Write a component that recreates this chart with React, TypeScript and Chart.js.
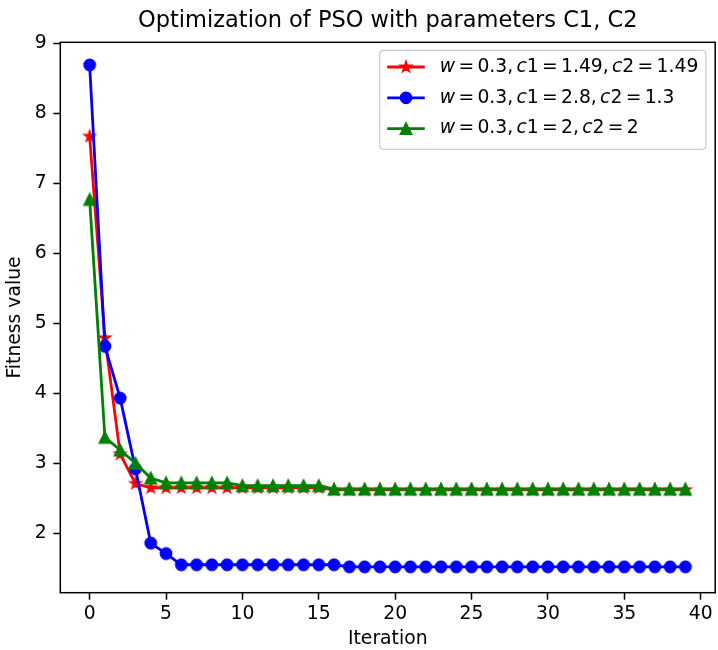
import React, { useEffect, useRef } from 'react';
import { Chart, registerables } from 'chart.js';

Chart.register(...registerables);

// ---------- data ----------
const iterations = [
  0, 1, 2, 3, 4, 5, 6, 7, 8, 9,
  10, 11, 12, 13, 14, 15, 16, 17, 18, 19,
  20, 21, 22, 23, 24, 25, 26, 27, 28, 29,
  30, 31, 32, 33, 34, 35, 36, 37, 38, 39,
];

const fitnessRed = [
  7.67, 4.79, 3.13, 2.71, 2.65, 2.65, 2.65, 2.65, 2.65, 2.65,
  2.65, 2.65, 2.65, 2.65, 2.65, 2.65, 2.62, 2.62, 2.62, 2.62,
  2.62, 2.62, 2.62, 2.62, 2.62, 2.62, 2.62, 2.62, 2.62, 2.62,
  2.62, 2.62, 2.62, 2.62, 2.62, 2.62, 2.62, 2.62, 2.62, 2.62,
];

const fitnessBlue = [
  8.69, 4.67, 3.93, 2.92, 1.86, 1.71, 1.55, 1.55, 1.55, 1.55,
  1.55, 1.55, 1.55, 1.55, 1.55, 1.55, 1.55, 1.52, 1.52, 1.52,
  1.52, 1.52, 1.52, 1.52, 1.52, 1.52, 1.52, 1.52, 1.52, 1.52,
  1.52, 1.52, 1.52, 1.52, 1.52, 1.52, 1.52, 1.52, 1.52, 1.52,
];

const fitnessGreen = [
  6.77, 3.37, 3.19, 3.0, 2.79, 2.72, 2.72, 2.72, 2.72, 2.72,
  2.68, 2.68, 2.68, 2.68, 2.68, 2.68, 2.63, 2.63, 2.63, 2.63,
  2.63, 2.63, 2.63, 2.63, 2.63, 2.63, 2.63, 2.63, 2.63, 2.63,
  2.63, 2.63, 2.63, 2.63, 2.63, 2.63, 2.63, 2.63, 2.63, 2.63,
];

const seriesLabels = [
  'w = 0.3, c1 = 1.49, c2 = 1.49',
  'w = 0.3, c1 = 2.8, c2 = 1.3',
  'w = 0.3, c1 = 2, c2 = 2',
];
const seriesColors = ['#ff0000', '#0000ff', '#008000'];
const seriesMarkers = ['star', 'circle', 'triangle'];

const xTicks = [0, 5, 10, 15, 20, 25, 30, 35, 40];
const yTicks = [2, 3, 4, 5, 6, 7, 8, 9];

const titleText = 'Optimization of PSO with parameters C1, C2';
const xTitleText = 'Iteration';
const yTitleText = 'Fitness value';

// ---------- style ----------
const FONT = "'DejaVu Sans'";
const FS = 18.75;
const MARKER_HALF = 5.6;
const MATH_SPACE = 3.3;

function markerPath(ctx: CanvasRenderingContext2D, type: string, x: number, y: number, s: number) {
  ctx.beginPath();
  if (type === 'circle') {
    ctx.arc(x, y, s, 0, Math.PI * 2);
  } else if (type === 'triangle') {
    ctx.moveTo(x, y - s);
    ctx.lineTo(x - s, y + s);
    ctx.lineTo(x + s, y + s);
    ctx.closePath();
  } else {
    for (let k = 0; k < 10; k++) {
      const r = k % 2 === 0 ? s : s * 0.381966;
      const a = -Math.PI / 2 + (k * Math.PI) / 5;
      const px = x + r * Math.cos(a);
      const py = y + r * Math.sin(a);
      if (k === 0) ctx.moveTo(px, py);
      else ctx.lineTo(px, py);
    }
    ctx.closePath();
  }
}

function drawMarker(ctx: CanvasRenderingContext2D, type: string, x: number, y: number, color: string) {
  ctx.save();
  markerPath(ctx, type, x, y, MARKER_HALF);
  ctx.fillStyle = color;
  ctx.fill();
  ctx.strokeStyle = color;
  ctx.lineWidth = 1.6;
  ctx.lineJoin = 'miter';
  ctx.stroke();
  ctx.restore();
}

function makeMarkerCanvas(type: string, color: string) {
  const c = document.createElement('canvas');
  c.width = 20;
  c.height = 20;
  const ctx = c.getContext('2d')!;
  drawMarker(ctx, type, 10, 10, color);
  return c;
}

function mixedRuns(text: string) {
  return text.split(/([a-z]+| )/).filter((t) => t.length > 0).map((t) => ({
    t,
    italic: /^[a-z]+$/.test(t),
    space: t === ' ',
  }));
}

function drawMixed(ctx: CanvasRenderingContext2D, text: string, x: number, y: number, draw: boolean) {
  let cx = x;
  for (const run of mixedRuns(text)) {
    if (run.space) {
      cx += MATH_SPACE;
      continue;
    }
    ctx.font = `${run.italic ? 'italic ' : ''}${FS}px ${FONT}`;
    const w = ctx.measureText(run.t).width;
    if (draw) ctx.fillText(run.t, cx, y);
    cx += w;
  }
  return cx - x;
}

const framePlugin = {
  id: 'mplFrame',
  afterDatasetsDraw(chart: any) {
    const { ctx, chartArea: a } = chart;
    ctx.save();
    ctx.strokeStyle = '#000';
    ctx.lineWidth = 1.5;
    ctx.strokeRect(a.left, a.top, a.right - a.left, a.bottom - a.top);
    ctx.restore();
  },
};

const legendPlugin = {
  id: 'mplLegend',
  afterDraw(chart: any) {
    const { ctx, chartArea: a } = chart;
    const ds = chart.data.datasets;
    ctx.save();
    ctx.textBaseline = 'middle';
    ctx.textAlign = 'left';
    const widths = ds.map((d: any) => drawMixed(ctx, d.label, 0, 0, false));
    const maxW = Math.max(...widths);
    const pad = 0.4 * FS;
    const handleLen = 2 * FS;
    const textPad = 0.8 * FS;
    const boxRight = a.right - 0.5 * FS;
    const boxW = pad + handleLen + textPad + maxW + pad;
    const boxLeft = boxRight - boxW;
    const boxTop = a.top + 8;
    const boxH = 99;
    const r = 4;
    ctx.beginPath();
    ctx.moveTo(boxLeft + r, boxTop);
    ctx.lineTo(boxLeft + boxW - r, boxTop);
    ctx.quadraticCurveTo(boxLeft + boxW, boxTop, boxLeft + boxW, boxTop + r);
    ctx.lineTo(boxLeft + boxW, boxTop + boxH - r);
    ctx.quadraticCurveTo(boxLeft + boxW, boxTop + boxH, boxLeft + boxW - r, boxTop + boxH);
    ctx.lineTo(boxLeft + r, boxTop + boxH);
    ctx.quadraticCurveTo(boxLeft, boxTop + boxH, boxLeft, boxTop + boxH - r);
    ctx.lineTo(boxLeft, boxTop + r);
    ctx.quadraticCurveTo(boxLeft, boxTop, boxLeft + r, boxTop);
    ctx.closePath();
    ctx.fillStyle = 'rgba(255,255,255,0.8)';
    ctx.fill();
    ctx.strokeStyle = '#cccccc';
    ctx.lineWidth = 1.2;
    ctx.stroke();

    ds.forEach((d: any, i: number) => {
      const y = boxTop + 16.7 + i * 30.8;
      const x0 = boxLeft + pad;
      ctx.beginPath();
      ctx.moveTo(x0, y);
      ctx.lineTo(x0 + handleLen, y);
      ctx.strokeStyle = d.borderColor;
      ctx.lineWidth = 2.8;
      ctx.stroke();
      drawMarker(ctx, d.markerType, x0 + handleLen / 2, y, d.borderColor);
      ctx.fillStyle = '#000';
      drawMixed(ctx, d.label, x0 + handleLen + textPad, y, true);
    });
    ctx.restore();
  },
};

export default function App() {
  const canvasRef = useRef<HTMLCanvasElement | null>(null);

  useEffect(() => {
    const canvas = canvasRef.current;
    if (!canvas) return;
    const series = [fitnessRed, fitnessBlue, fitnessGreen];
    const datasets = series.map((vals, i) => ({
      label: seriesLabels[i],
      data: iterations.map((it, j) => ({ x: it, y: vals[j] })),
      borderColor: seriesColors[i],
      backgroundColor: seriesColors[i],
      borderWidth: 2.8,
      pointStyle: makeMarkerCanvas(seriesMarkers[i], seriesColors[i]),
      pointRadius: 6,
      pointHoverRadius: 6,
      tension: 0,
      fill: false,
      order: 2 - i,
      markerType: seriesMarkers[i],
    }));

    const tickFont = { family: FONT, size: FS, lineHeight: 1.2 };

    const chart = new Chart(canvas, {
      type: 'line',
      data: { datasets: datasets as any },
      options: {
        animation: false,
        responsive: false,
        devicePixelRatio: 1,
        events: [],
        layout: { padding: { left: 0, right: 0.5, top: 0, bottom: 0 } },
        plugins: {
          legend: { display: false },
          tooltip: { enabled: false },
          title: {
            display: true,
            text: titleText,
            fullSize: false,
            color: '#000',
            font: { family: FONT, size: 22.5, weight: 'normal', lineHeight: 1.2 },
            padding: { top: 7.5, bottom: 7.8 },
          },
        },
        scales: {
          x: {
            type: 'linear',
            min: -1.92,
            max: 40.95,
            afterBuildTicks: (scale: any) => {
              scale.ticks = xTicks.map((v) => ({ value: v }));
            },
            afterFit: (scale: any) => {
              scale.height = 57.3;
            },
            grid: {
              drawOnChartArea: false,
              drawTicks: true,
              tickLength: 7,
              tickWidth: 1.5,
              tickColor: '#000',
            },
            border: { display: false },
            ticks: {
              color: '#000',
              font: tickFont,
              padding: 3,
              maxRotation: 0,
              autoSkip: false,
            },
            title: {
              display: true,
              text: xTitleText,
              color: '#000',
              font: { family: FONT, size: FS, lineHeight: 1.2 },
              padding: { top: 0, bottom: 0 },
            },
          },
          y: {
            type: 'linear',
            min: 1.151,
            max: 9.014,
            afterBuildTicks: (scale: any) => {
              scale.ticks = yTicks.map((v) => ({ value: v }));
            },
            afterFit: (scale: any) => {
              scale.width = 60.3;
            },
            grid: {
              drawOnChartArea: false,
              drawTicks: true,
              tickLength: 7,
              tickWidth: 1.5,
              tickColor: '#000',
            },
            border: { display: false },
            ticks: {
              color: '#000',
              font: tickFont,
              padding: 6.6,
              autoSkip: false,
            },
            title: {
              display: true,
              text: yTitleText,
              color: '#000',
              font: { family: FONT, size: FS, lineHeight: 1.2 },
              padding: { top: 4, bottom: 0 },
            },
          },
        },
      } as any,
      plugins: [framePlugin, legendPlugin],
    });
    return () => chart.destroy();
  }, []);

  return (
    <div
      style={{
        position: 'absolute',
        left: 0,
        top: 0,
        width: 718,
        height: 650,
        overflow: 'hidden',
        background: '#fff',
      }}
    >
      <canvas ref={canvasRef} width={724} height={650} style={{ display: 'block' }} />
    </div>
  );
}
